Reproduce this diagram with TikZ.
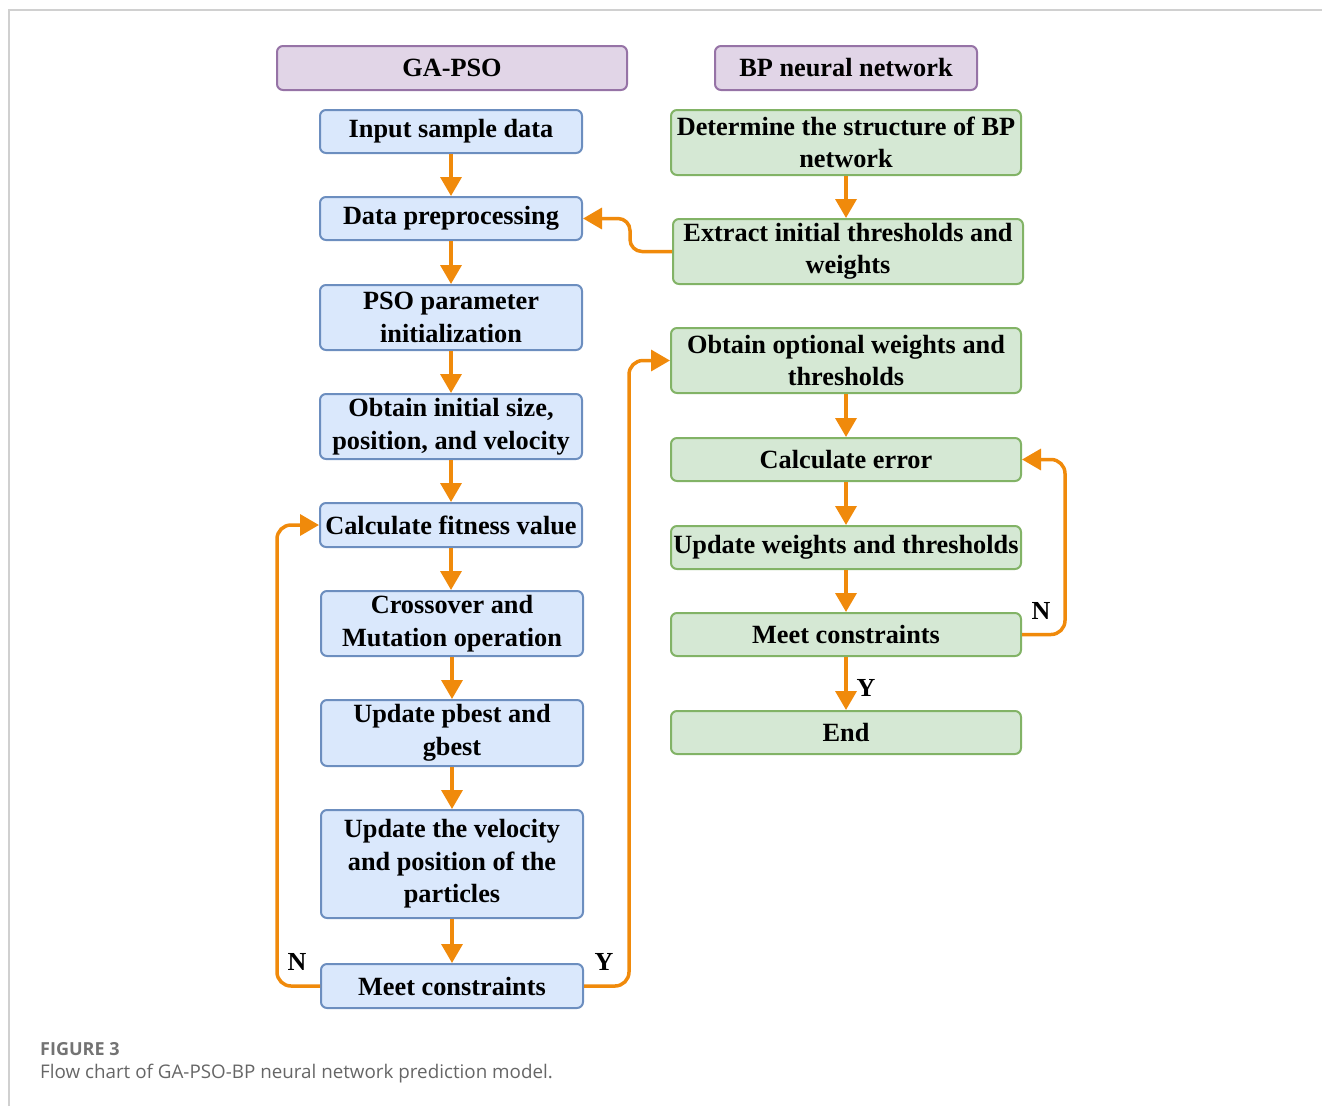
\documentclass[tikz,border=0pt]{standalone}
\usepackage{fontspec}
\setmainfont{Liberation Serif}
\newfontfamily\capfont{Open Sans}
\usetikzlibrary{arrows.meta,calc}
\definecolor{bluefill}{HTML}{DAE8FC}
\definecolor{blueline}{HTML}{6C8EBF}
\definecolor{greenfill}{HTML}{D5E8D4}
\definecolor{greenline}{HTML}{82B366}
\definecolor{purpfill}{HTML}{E1D5E7}
\definecolor{purpline}{HTML}{9673A6}
\definecolor{orng}{HTML}{F08A0B}
\definecolor{framegray}{HTML}{D0D0D0}
\tikzset{
  basebox/.style={rounded corners=6pt, line width=2pt, align=center, inner sep=0pt,
    font=\fontsize{26.3}{32.5}\selectfont\bfseries},
  bluebox/.style={basebox, draw=blueline, fill=bluefill},
  greenbox/.style={basebox, draw=greenline, fill=greenfill},
  purpbox/.style={basebox, draw=purpline, fill=purpfill},
  arr/.style={draw=orng, line width=3.5pt, -{Triangle[length=19pt,width=21pt]}},
  lbl/.style={font=\fontsize{26}{28}\selectfont\bfseries, inner sep=0pt},
}
\begin{document}
\begin{tikzpicture}[x=1pt,y=-1pt]
\useasboundingbox (0,0) rectangle (1322,1106);
\draw[framegray, line width=1.5pt] (9,1106) -- (9,10) -- (1322,10);

% headers
\node[purpbox, minimum width=350pt, minimum height=44pt] (h1) at (452,68) {GA-PSO};
\node[purpbox, minimum width=262pt, minimum height=44pt] (h2) at (846,68) {BP neural network};

% left column
\node[bluebox, minimum width=262pt, minimum height=43pt] (in) at (451,131.5) {Input sample data};
\node[bluebox, minimum width=262pt, minimum height=43pt] (dp) at (451,218.5) {Data preprocessing};
\node[bluebox, minimum width=262pt, minimum height=65pt] (pso) at (451,317.5) {PSO parameter\\initialization};
\node[bluebox, minimum width=262pt, minimum height=65pt] (oi) at (451,426.5) {Obtain initial size,\\position, and velocity};
\node[bluebox, minimum width=262pt, minimum height=44pt] (cf) at (451,525) {Calculate fitness value};
\node[bluebox, minimum width=262pt, minimum height=65pt] (cm) at (452,623.5) {Crossover and\\Mutation operation};
\node[bluebox, minimum width=262pt, minimum height=66pt] (up) at (452,733) {Update pbest and\\gbest};
\node[bluebox, minimum width=262pt, minimum height=108pt] (uv) at (452,864) {Update the velocity\\and position of the\\particles};
\node[bluebox, minimum width=262pt, minimum height=44pt] (mc1) at (452,986) {Meet constraints};

% right column
\node[greenbox, minimum width=350pt, minimum height=65pt] (ds) at (846,142.5) {Determine the structure of BP\\network};
\node[greenbox, minimum width=350pt, minimum height=65pt] (ex) at (848,251.5) {Extract initial thresholds and\\weights};
\node[greenbox, minimum width=350pt, minimum height=65pt] (oo) at (846,360.5) {Obtain optional weights and\\thresholds};
\node[greenbox, minimum width=350pt, minimum height=43pt] (ce) at (846,459.5) {Calculate error};
\node[greenbox, minimum width=350pt, minimum height=43pt] (uw) at (846,547.5) {Update weights and thresholds};
\node[greenbox, minimum width=350pt, minimum height=43pt] (mc2) at (846,634.5) {Meet constraints};
\node[greenbox, minimum width=350pt, minimum height=43pt] (end) at (846,732.5) {End};

% left vertical arrows
\draw[arr] (in.south -| 451,0) -- (dp.north -| 451,0);
\draw[arr] (dp.south -| 451,0) -- (pso.north -| 451,0);
\draw[arr] (pso.south -| 451,0) -- (oi.north -| 451,0);
\draw[arr] (oi.south -| 451,0) -- (cf.north -| 451,0);
\draw[arr] (cf.south -| 451,0) -- (cm.north -| 451,0);
\draw[arr] (cm.south -| 452,0) -- (up.north -| 452,0);
\draw[arr] (up.south -| 452,0) -- (uv.north -| 452,0);
\draw[arr] (uv.south -| 452,0) -- (mc1.north -| 452,0);

% right vertical arrows
\draw[arr] (ds.south -| 846,0) -- (ex.north -| 846,0);
\draw[arr] (oo.south -| 846,0) -- (ce.north -| 846,0);
\draw[arr] (ce.south -| 846,0) -- (uw.north -| 846,0);
\draw[arr] (uw.south -| 846,0) -- (mc2.north -| 846,0);
\draw[arr] (mc2.south -| 846,0) -- (end.north -| 846,0);

% cross connectors
\draw[arr, rounded corners=12pt] (ex.west) -- (630,251.5) -- (630,218.5) -- (dp.east);
\draw[arr, rounded corners=14pt] (mc1.west) -- (277,986) -- (277,525) -- (cf.west);
\draw[arr, rounded corners=14pt] (mc1.east) -- (629,986) -- (629,360.5) -- (oo.west);
\draw[arr, rounded corners=14pt] (mc2.east) -- (1065,634.5) -- (1065,459.5) -- (ce.east);

% labels
\node[lbl] (n1) at (297,962) {N};
\node[lbl] (y1) at (604,962) {Y};
\node[lbl] (n2) at (1041,611) {N};
\node[lbl] (y2) at (866,688) {Y};

% caption
\node[anchor=west, inner sep=0pt, font=\capfont\bfseries\fontsize{18}{22}\selectfont, text=black!55] (fig) at (40,1049) {FIGURE 3};
\node[anchor=west, inner sep=0pt, font=\capfont\fontsize{18.8}{22}\selectfont, text=black!60] (cap) at (40,1074) {Flow chart of GA-PSO-BP neural network prediction model.};
\end{tikzpicture}
\end{document}
